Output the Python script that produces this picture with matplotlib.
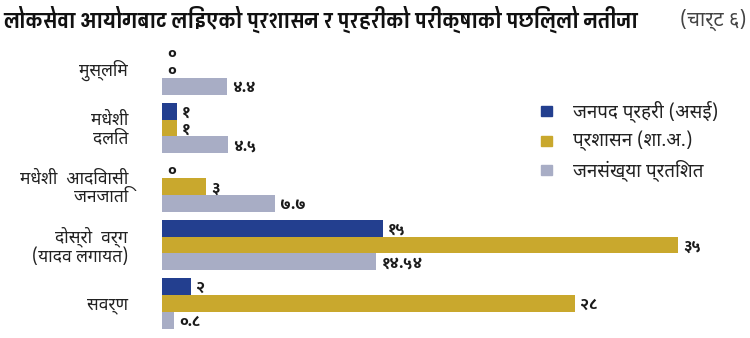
import matplotlib
matplotlib.use("Agg")
import matplotlib.pyplot as plt
from matplotlib.patches import Rectangle

# Data
categories = ["मुस्लिम", "मधेशी\nदलित", "मधेशी  आदिवासी\nजनजाति", "दोस्रो  वर्ग\n(यादव लगायत)", "सवर्ण"]
series_names = ["जनपद प्रहरी (असई)", "प्रशासन (शा.अ.)", "जनसंख्या प्रतिशत"]
police = [0, 1, 0, 15, 2]
admin = [0, 1, 3, 35, 28]
population = [4.4, 4.5, 7.7, 14.54, 0.8]
colors = ["#233f8f", "#c9a82d", "#a8adc5"]

title = "लोकसेवा आयोगबाट लिइएको प्रशासन र प्रहरीको परीक्षाको पछिल्लो नतीजा"
subtitle = "(चार्ट ६)"

DEV_DIGITS = str.maketrans("0123456789", "०१२३४५६७८९")


def dev(v):
    return ("%g" % v).translate(DEV_DIGITS)


REG = ["Noto Sans Devanagari", "Noto Sans", "DejaVu Sans"]
BOLD = ["Mukta", "Noto Sans Devanagari", "DejaVu Sans"]
TITLE = ["Pragati Narrow", "Noto Sans Devanagari", "DejaVu Sans"]

W, H = 750, 338
PX = 14.74  # pixels per unit on the value axis
fig = plt.figure(figsize=(W / 100, H / 100), dpi=100)
ax = fig.add_axes([162 / W, 0, (W - 162) / W, (H - 40) / H])

n = len(categories)
h = 0.29
offsets = [-h, 0, h]
all_series = [police, admin, population]
for vals, off, col, name in zip(all_series, offsets, colors, series_names):
    ys = [i + off for i in range(n)]
    ax.barh(ys, vals, height=h, color=col, label=name, edgecolor="none")
    for y, v in zip(ys, vals):
        ax.text(v + 5 / PX, y + 0.03, dev(v), va="center", ha="left",
                fontsize=11.5, fontweight=800, family=BOLD, color="#1a1a1a")

ax.set_xlim(0, (W - 162) / PX)
ax.set_ylim(4 + 34.5 / 58.5, -29.5 / 58.5)
ax.axis("off")

# Category labels
for i, c in enumerate(categories):
    ax.text(-34 / PX, i + 0.02, c, ha="right", va="center", fontsize=12.5,
            family=REG, color="#222222", linespacing=1.05)

# Legend
leg_y = [111, 141, 170]
for name, col, py in zip(series_names, colors, leg_y):
    fig.patches.append(Rectangle((541 / W, 1 - (py + 5) / H), 11 / W, 10 / H,
                                 transform=fig.transFigure, color=col))
    fig.text(573 / W, 1 - py / H, name, ha="left", va="center", fontsize=13.5,
             family=REG, color="#222222")

fig.text(3 / W, 1 - 19 / H, title, ha="left", va="center", fontsize=17.3,
         fontweight="bold", family=TITLE, color="#111111")
fig.text(746 / W, 1 - 20 / H, subtitle, ha="right", va="center", fontsize=14.5,
         family=REG, color="#444444")

fig.savefig("out.png", dpi=100)
